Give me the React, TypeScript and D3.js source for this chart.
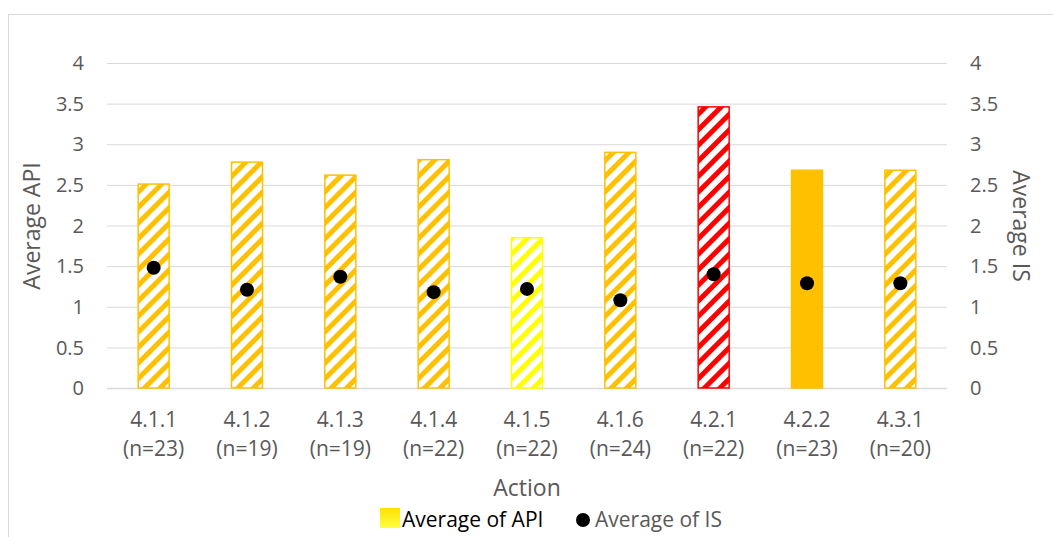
import React from "react";
import * as d3 from "d3";

const categories = ["4.1.1", "4.1.2", "4.1.3", "4.1.4", "4.1.5", "4.1.6", "4.2.1", "4.2.2", "4.3.1"];
const counts = ["n=23", "n=19", "n=19", "n=22", "n=22", "n=24", "n=22", "n=23", "n=20"];
const apiValues = [2.51, 2.78, 2.62, 2.81, 1.85, 2.9, 3.46, 2.68, 2.68];
const isValues = [1.48, 1.21, 1.37, 1.18, 1.22, 1.08, 1.4, 1.29, 1.29];
const barStyles = ["orange", "orange", "orange", "orange", "yellow", "orange", "red", "solid", "orange"];
const ticks = [0, 0.5, 1, 1.5, 2, 2.5, 3, 3.5, 4];

const colors: Record<string, string> = {
  orange: "#FFC000",
  yellow: "#FFFF00",
  red: "#FF0000",
  solid: "#FFC000",
};

export default function App() {
  const W = 1053, H = 537;
  const left = 107, right = 947, top = 63, bottom = 388;
  const x = d3.scaleBand<string>().domain(categories).range([left, right]);
  const y = d3.scaleLinear().domain([0, 4]).range([bottom, top]);
  const bw = 31;
  const font = "'Open Sans', sans-serif";
  const fill = (s: string) => (s === "solid" ? colors.solid : `url(#pat-${s})`);

  return (
    <svg width={W} height={H} style={{ position: "absolute", left: 0, top: 0 }} fontFamily={font}>
      <defs>
        {["orange", "yellow", "red"].map((k) => (
          <pattern key={k} id={`pat-${k}`} patternUnits="userSpaceOnUse" width={11} height={11} patternTransform="rotate(45)">
            <rect width={11} height={11} fill="#fff" />
            <rect width={5} height={11} fill={colors[k]} />
          </pattern>
        ))}
        <linearGradient id="leg" x1="0" y1="0" x2="0" y2="1">
          <stop offset="0" stopColor="#FFE000" />
          <stop offset="1" stopColor="#FFFF40" />
        </linearGradient>
      </defs>
      <rect x={0} y={0} width={W} height={H} fill="#fff" />
      <rect x={8.5} y={14.5} width={1060} height={540} fill="none" stroke="#d9d9d9" strokeWidth={1} />
      {ticks.map((t) => (
        <g key={t}>
          <line x1={left} x2={right} y1={y(t) + 0.5} y2={y(t) + 0.5} stroke="#d9d9d9" strokeWidth={t === 0 ? 1.5 : 1} />
          <text x={84} y={y(t)} dy="0.36em" textAnchor="end" fontSize={20} fill="#595959">{t}</text>
          <text x={970} y={y(t)} dy="0.36em" textAnchor="start" fontSize={20} fill="#595959">{t}</text>
        </g>
      ))}
      {categories.map((c, i) => {
        const cx = x(c)! + x.bandwidth() / 2;
        const v = apiValues[i];
        const st = barStyles[i];
        return (
          <g key={c}>
            <rect x={cx - bw / 2} y={y(v)} width={bw} height={y(0) - y(v)} fill={fill(st)} stroke={colors[st]} strokeWidth={1.5} />
            <text x={cx} y={427} textAnchor="middle" fontSize={21} fill="#595959">{c}</text>
            <text x={cx} y={456} textAnchor="middle" fontSize={21} fill="#595959">({counts[i]})</text>
          </g>
        );
      })}
      {categories.map((c, i) => {
        const cx = x(c)! + x.bandwidth() / 2;
        return <circle key={c} cx={cx} cy={y(isValues[i])} r={7} fill="#000" />;
      })}
      <text transform={`translate(40,${226}) rotate(-90)`} textAnchor="middle" fontSize={23} fill="#595959">Average API</text>
      <text transform={`translate(1013,${226}) rotate(90)`} textAnchor="middle" fontSize={23} fill="#595959">Average IS</text>
      <text x={527} y={496} textAnchor="middle" fontSize={23} fill="#595959">Action</text>
      <rect x={380} y={508} width={20} height={20} fill="url(#leg)" />
      <text x={402} y={527} fontSize={21} fill="#000">Average of API</text>
      <circle cx={583} cy={520} r={7} fill="#000" />
      <text x={595} y={527} fontSize={21} fill="#595959">Average of IS</text>
    </svg>
  );
}
